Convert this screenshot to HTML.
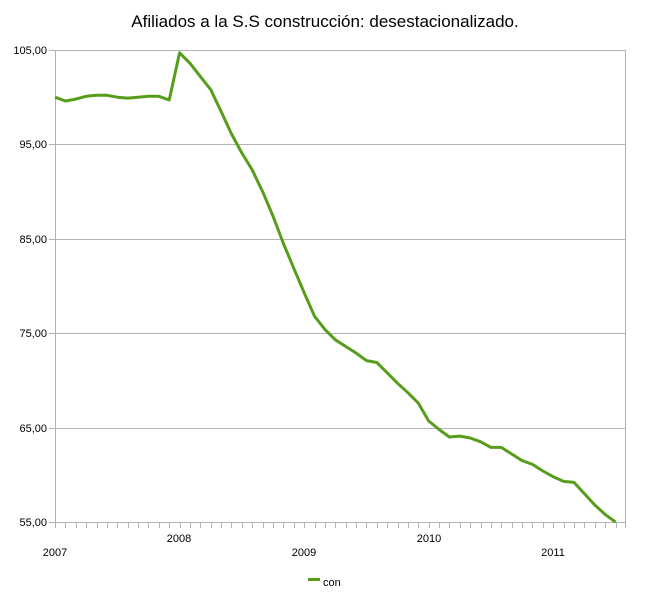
<!DOCTYPE html>
<html><head><meta charset="utf-8"><style>body{margin:0;background:#fff}svg{display:block}text{font-family:"Liberation Sans",sans-serif}</style></head><body>
<svg width="650" height="609" viewBox="0 0 650 609">
<text x="325" y="27" font-size="17" text-anchor="middle" fill="#000">Afiliados a la S.S construcción: desestacionalizado.</text>
<g stroke="#b3b3b3" stroke-width="1">
<line x1="49" y1="50.5" x2="625" y2="50.5"/>
<line x1="49" y1="144.5" x2="625" y2="144.5"/>
<line x1="49" y1="239.5" x2="625" y2="239.5"/>
<line x1="49" y1="333.5" x2="625" y2="333.5"/>
<line x1="49" y1="428.5" x2="625" y2="428.5"/>
<line x1="49" y1="522.5" x2="625" y2="522.5"/>
<line x1="55.5" y1="50" x2="55.5" y2="528"/>
<line x1="625.5" y1="50" x2="625.5" y2="528"/>
</g>
<g id="ticks" stroke="#b3b3b3" stroke-width="1"></g>
<g font-size="11" fill="#000" text-anchor="end">
<text x="47" y="54">105,00</text>
<text x="47" y="148">95,00</text>
<text x="47" y="243">85,00</text>
<text x="47" y="337">75,00</text>
<text x="47" y="432">65,00</text>
<text x="47" y="526">55,00</text>
</g>
<g font-size="11" fill="#000" text-anchor="middle">
<text x="55" y="556">2007</text>
<text x="179" y="542">2008</text>
<text x="304" y="556">2009</text>
<text x="429" y="542">2010</text>
<text x="553" y="556">2011</text>
</g>
<polyline id="ln" fill="none" stroke="#579d1c" stroke-width="3" stroke-linejoin="round"/>
<rect x="308" y="578" width="12" height="3" fill="#579d1c"/>
<text x="323" y="586" font-size="11">con</text>
</svg>
<script>
var d=[100.0,99.6,99.8,100.1,100.2,100.2,100.0,99.9,100.0,100.1,100.1,99.7,
104.7,103.6,102.2,100.8,98.5,96.1,94.1,92.3,90.0,87.4,84.5,81.9,
79.3,76.8,75.4,74.3,73.6,72.9,72.1,71.9,70.8,69.7,68.7,67.6,
65.7,64.8,64.0,64.1,63.9,63.5,62.9,62.9,62.2,61.5,61.1,60.4,
59.8,59.3,59.2,58.0,56.8,55.8,55.0];
var p=d.map(function(v,i){return (55+i*10.38).toFixed(1)+","+(50+(105-v)*9.44).toFixed(1)}).join(" ");
document.getElementById("ln").setAttribute("points",p);
var t="";for(var i=0;i<=55;i++){var x=Math.round(55+i*10.38)+.5;if(x>626)break;t+='<line x1="'+x+'" y1="522" x2="'+x+'" y2="528"/>';}
document.getElementById("ticks").innerHTML=t;
</script>
</body></html>
